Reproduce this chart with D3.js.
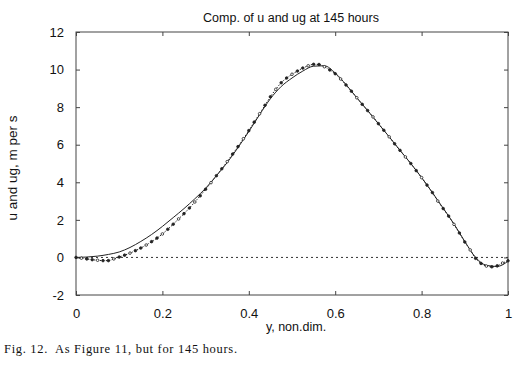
<!DOCTYPE html>
<html><head><meta charset="utf-8">
<script src="https://cdn.jsdelivr.net/npm/d3@7"></script>
<style>
html,body{margin:0;padding:0;background:#fff;}
svg{display:block;}
</style></head>
<body><svg id="c" width="516" height="365"></svg>
<script>
// u (solid) sampled at y = 0, 0.025, ..., 1
const uX = d3.range(0, 41).map(i => i / 40);
const uVals = [0, 0.02, 0.07, 0.16, 0.29, 0.53, 0.85, 1.22, 1.65, 2.12, 2.6, 3.12, 3.68, 4.35, 5.05, 5.85, 6.7, 7.6, 8.45, 9.1, 9.55, 9.92, 10.18, 10.2, 9.82, 9.2, 8.5, 7.82, 7.12, 6.42, 5.7, 5.0, 4.25, 3.45, 2.62, 1.78, 0.85, 0.0, -0.42, -0.48, -0.2];
// ug (dotted with markers) sampled at y = 0, 0.0125, ..., 1
const ugX = d3.range(0, 81).map(i => i / 80);
const ugVals = [0, -0.04, -0.08, -0.12, -0.15, -0.17, -0.17, -0.08, 0.02, 0.12, 0.23, 0.36, 0.5, 0.66, 0.84, 1.03,
  1.25, 1.5, 1.77, 2.05, 2.33, 2.63, 2.95, 3.28, 3.63, 3.98, 4.35, 4.72, 5.1, 5.5, 5.9, 6.32,
  6.75, 7.2, 7.65, 8.1, 8.55, 8.95, 9.3, 9.55, 9.75, 9.92, 10.08, 10.2, 10.28, 10.27, 10.15, 9.98,
  9.78, 9.5, 9.18, 8.85, 8.5, 8.15, 7.82, 7.48, 7.12, 6.77, 6.42, 6.05, 5.7, 5.35, 5.0, 4.62,
  4.25, 3.85, 3.45, 3.0, 2.6, 2.2, 1.76, 1.3, 0.82, 0.4, -0.05, -0.32, -0.46, -0.5, -0.45, -0.3, -0.18];
const xTicks = [0, 0.2, 0.4, 0.6, 0.8, 1];
const xTickLabels = ["0", "0.2", "0.4", "0.6", "0.8", "1"];
const yTicks = [-2, 0, 2, 4, 6, 8, 10, 12];
const yTickLabels = ["-2", "0", "2", "4", "6", "8", "10", "12"];
const titleText = "Comp. of u and ug at 145 hours";
const xLabelText = "y, non.dim.";
const yLabelText = "u and ug, m per s";
const captionText = "Fig. 12.  As Figure 11, but for 145 hours.";

const SANS = "Liberation Sans, Arial, Helvetica, sans-serif";
const SERIF = "Liberation Serif, Times New Roman, serif";

const svg = d3.select("#c");
const L = 76, R = 508, T = 32, B = 295;
const x = d3.scaleLinear().domain([0, 1]).range([L, R]);
const y = d3.scaleLinear().domain([-2, 12]).range([B, T]);

// frame
svg.append("rect").attr("x", L).attr("y", T).attr("width", R - L).attr("height", B - T)
  .attr("fill", "none").attr("stroke", "#444").attr("stroke-width", 1);

// axes with inward ticks
svg.append("g").attr("transform", `translate(0,${B})`)
  .call(d3.axisBottom(x).tickValues(xTicks).tickFormat((d, i) => xTickLabels[i]).tickSizeInner(-4).tickSizeOuter(0).tickPadding(14))
  .call(g => g.select(".domain").remove())
  .call(g => g.selectAll("line").attr("stroke", "#444"))
  .call(g => g.selectAll("text").attr("font-size", 13).attr("fill", "#111").attr("font-family", SANS));
svg.append("g").attr("transform", `translate(0,${T})`)
  .call(d3.axisTop(x).tickValues(xTicks).tickFormat("").tickSizeInner(-4).tickSizeOuter(0))
  .call(g => g.select(".domain").remove())
  .call(g => g.selectAll("line").attr("stroke", "#444"));
svg.append("g").attr("transform", `translate(${L},0)`)
  .call(d3.axisLeft(y).tickValues(yTicks).tickFormat((d, i) => yTickLabels[i]).tickSizeInner(-4).tickSizeOuter(0).tickPadding(12))
  .call(g => g.select(".domain").remove())
  .call(g => g.selectAll("line").attr("stroke", "#444"))
  .call(g => g.selectAll("text").attr("font-size", 13).attr("fill", "#111").attr("font-family", SANS));
svg.append("g").attr("transform", `translate(${R},0)`)
  .call(d3.axisRight(y).tickValues(yTicks).tickFormat("").tickSizeInner(-4).tickSizeOuter(0))
  .call(g => g.select(".domain").remove())
  .call(g => g.selectAll("line").attr("stroke", "#444"));

// zero line
svg.append("line").attr("x1", x(0)).attr("x2", x(1)).attr("y1", y(0)).attr("y2", y(0))
  .attr("stroke", "#333").attr("stroke-width", 1).attr("stroke-dasharray", "2,3");

// solid u
const uData = uX.map((d, i) => [d, uVals[i]]);
svg.append("path").datum(uData)
  .attr("d", d3.line().x(d => x(d[0])).y(d => y(d[1])).curve(d3.curveMonotoneX))
  .attr("fill", "none").attr("stroke", "#222").attr("stroke-width", 1);

// dotted ug with markers
const ugData = ugX.map((d, i) => [d, ugVals[i]]);
svg.append("path").datum(ugData)
  .attr("d", d3.line().x(d => x(d[0])).y(d => y(d[1])).curve(d3.curveMonotoneX))
  .attr("fill", "none").attr("stroke", "#222").attr("stroke-width", 1).attr("stroke-dasharray", "1.5,1.5");
svg.append("g").selectAll("circle").data(ugData).join("circle")
  .attr("cx", d => x(d[0])).attr("cy", d => y(d[1])).attr("r", 1.3)
  .attr("fill", (d, i) => i % 3 === 1 ? "#fff" : "#222").attr("stroke", "#222").attr("stroke-width", 0.8);

// texts
svg.append("text").attr("x", 291).attr("y", 22).attr("text-anchor", "middle")
  .attr("font-family", SANS).attr("fill", "#111").attr("font-size", 12.5).text(titleText);
svg.append("text").attr("x", 296).attr("y", 331).attr("text-anchor", "middle")
  .attr("font-family", SANS).attr("fill", "#111").attr("font-size", 12.5).text(xLabelText);
svg.append("text").attr("transform", "translate(17,168) rotate(-90)").attr("text-anchor", "middle")
  .attr("font-family", SANS).attr("fill", "#111").attr("font-size", 13.5).text(yLabelText);
svg.append("text").attr("x", 4).attr("y", 353).attr("font-size", 12.5)
  .attr("font-family", SERIF).attr("fill", "#111")
  .attr("textLength", 233).attr("lengthAdjust", "spacing")
  .style("white-space", "pre").text(captionText);
</script></body></html>
